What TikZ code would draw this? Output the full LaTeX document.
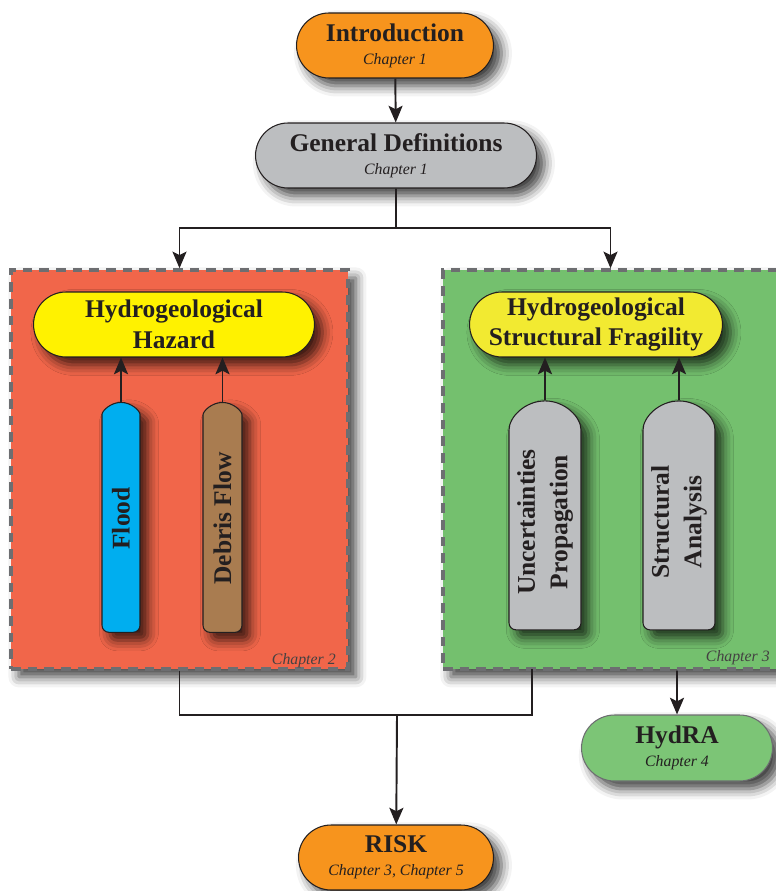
\documentclass[tikz,border=0pt]{standalone}
\usepackage{fontspec}
\setmainfont{Liberation Serif}
\usetikzlibrary{arrows.meta,shapes.misc,shadows.blur}

\definecolor{textdark}{HTML}{231F20}
\definecolor{riskorange}{HTML}{F7941D}
\definecolor{defgray}{HTML}{BCBEC0}
\definecolor{hazardred}{HTML}{F1664A}
\definecolor{fragilgreen}{HTML}{74C06E}
\definecolor{hydragreen}{HTML}{7CC576}
\definecolor{hazyellow}{HTML}{FFF200}
\definecolor{fragyellow}{HTML}{F2EA31}
\definecolor{floodblue}{HTML}{00AEEF}
\definecolor{debrisbrown}{HTML}{A97C50}
\definecolor{dashgray}{HTML}{6D6E71}

\newcommand{\chap}[1]{\\[-4.5pt]{\mdseries\itshape\fontsize{9}{10}\selectfont #1}}

\tikzset{
  dropshadow/.style={blur shadow={shadow xshift=4.5pt, shadow yshift=-4.5pt,
      shadow blur radius=6pt, shadow opacity=75}},
  pill/.style={rounded rectangle, draw=textdark, line width=0.6pt, align=center,
      text=textdark, font=\bfseries\fontsize{14.5}{17.5}\selectfont,
      minimum height=1.3cm, inner sep=2pt, dropshadow},
  bullet/.style={rounded rectangle, rounded rectangle west arc=none, rotate=90,
      rounded corners=4pt, draw=textdark, line width=0.6pt, align=center,
      text=textdark, font=\bfseries\fontsize{14.5}{18.5}\selectfont,
      inner sep=2pt, dropshadow},
  chapbox/.style={draw=dashgray, dash pattern=on 5.5pt off 4pt, line width=2pt,
      inner sep=0pt, dropshadow},
  chaplabel/.style={font=\itshape\fontsize{9}{10}\selectfont, text=textdark!85,
      inner sep=0pt},
  line/.style={draw=textdark, line width=1.1pt},
  arrow/.style={line, -{Stealth[length=9.5pt,width=8pt,inset=2pt]}},
}

\begin{document}
\begin{tikzpicture}[x=0.02cm,y=-0.02cm]
\useasboundingbox (0,0) rectangle (776,891);

% Chapter boxes
\node[chapbox, fill=hazardred, minimum width=6.74cm, minimum height=7.98cm] (hazbox) at (179.5,469.5) {};
\node[chapbox, fill=fragilgreen, minimum width=6.7cm, minimum height=7.98cm] (fragbox) at (610.5,469.5) {};
\node[chaplabel, anchor=base east] (hazchap) at (336,664) {Chapter 2};
\node[chaplabel, anchor=base east] (fragchap) at (770,661) {Chapter 3};

% Main flow
\node[pill, fill=riskorange, minimum width=4.08cm] (intro) at (395,45.5) {Introduction\chap{Chapter 1}};
\node[pill, fill=defgray, minimum width=5.76cm] (gendef) at (396,155.5) {General Definitions\chap{Chapter 1}};
\node[pill, fill=hazyellow, minimum width=5.76cm] (hazard) at (174,324.5) {Hydrogeological\\Hazard};
\node[pill, fill=fragyellow, minimum width=5.2cm] (fragility) at (596,324.5) {Hydrogeological\\Structural Fragility};

% Inputs
\node[bullet, fill=floodblue, minimum width=4.74cm, minimum height=0.76cm] (flood) at (121,518.5) {Flood};
\node[bullet, fill=debrisbrown, minimum width=4.74cm, minimum height=0.78cm] (debris) at (222.5,518.5) {Debris Flow};
\node[bullet, fill=defgray, minimum width=4.72cm, minimum height=1.44cm] (uncert) at (545,522) {Uncertainties\\Propagation};
\node[bullet, fill=defgray, minimum width=4.72cm, minimum height=1.44cm] (struct) at (679,522) {Structural\\Analysis};

% Outputs
\node[pill, fill=hydragreen, draw=dashgray, minimum width=3.96cm, minimum height=1.32cm] (hydra) at (677,748) {HydRA\chap{Chapter 4}};
\node[pill, fill=riskorange, minimum width=4.04cm] (risk) at (396,857.5) {RISK\chap{Chapter 3, Chapter 5}};

% Connectors
\draw[arrow] (intro) -- (gendef);
\coordinate (split) at (396,228);
\draw[line] (gendef) -- (split);
\draw[arrow] (split) -| (hazbox.north);
\draw[arrow] (split) -| (fragbox.north);

\draw[arrow] (flood.east) -- (flood.east |- hazard.south);
\draw[arrow] (debris.east) -- (debris.east |- hazard.south);
\draw[arrow] (uncert.east) -- (uncert.east |- fragility.south);
\draw[arrow] (struct.east) -- (struct.east |- fragility.south);

\coordinate (join) at (397,715);
\coordinate (fragout) at (532,669);
\draw[line] (hazbox.south) |- (fragout |- join) -- (fragout);
\draw[arrow] (join) -- (risk);
\draw[arrow] (hydra.north |- fragbox.south) -- (hydra);
\end{tikzpicture}
\end{document}
